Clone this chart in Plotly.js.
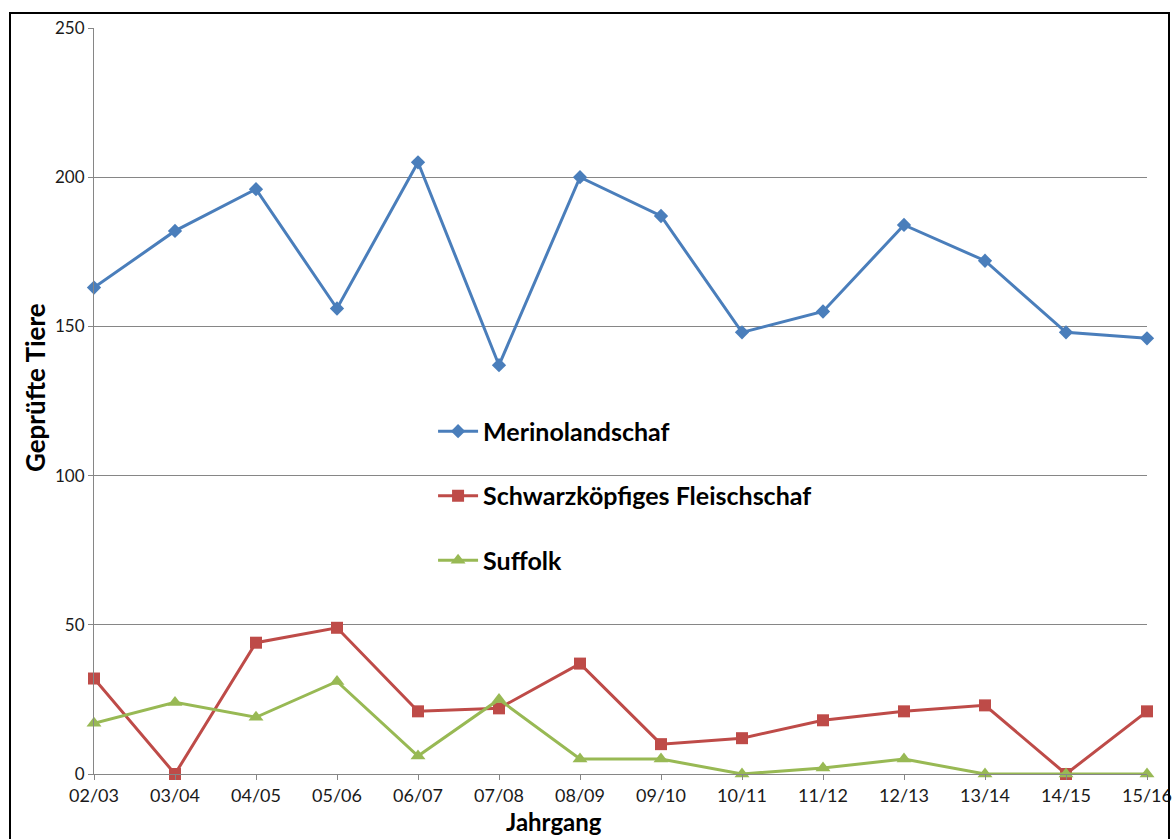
<!DOCTYPE html>
<html>
<head>
<meta charset="utf-8">
<script src="https://cdn.plot.ly/plotly-3.0.1.min.js"></script>
<style>
  html, body { margin: 0; padding: 0; background: #fff; overflow: hidden; }
  #chart { width: 1172px; height: 839px; }
  #frame { position: absolute; left: 9px; top: 12px; width: 1157px; height: 860px;
           border: 2px solid #000; pointer-events: none; }
</style>
</head>
<body>
<div id="chart"></div>
<div id="frame"></div>
<script>
const categories = ["02/03","03/04","04/05","05/06","06/07","07/08","08/09","09/10","10/11","11/12","12/13","13/14","14/15","15/16"];
const merinolandschaf = [163, 182, 196, 156, 205, 137, 200, 187, 148, 155, 184, 172, 148, 146];
const schwarzkoepfiges = [32, 0, 44, 49, 21, 22, 37, 10, 12, 18, 21, 23, 0, 21];
const suffolk = [17, 24, 19, 31, 6, 25, 5, 5, 0, 2, 5, 0, 0, 0];
const yTicks = [0, 50, 100, 150, 200, 250];

const fontFam = "Lato, 'Open Sans', sans-serif";

const traces = [
  { x: categories, y: merinolandschaf, name: "Merinolandschaf", legendgroup: "a",
    mode: "lines+markers", line: { color: "#4a7ebb", width: 3 },
    marker: { symbol: "diamond", size: 11, color: "#4a7ebb" }, cliponaxis: false },
  { x: categories, y: schwarzkoepfiges, name: "Schwarzköpfiges Fleischschaf", legendgroup: "b",
    mode: "lines+markers", line: { color: "#be4b48", width: 3 },
    marker: { symbol: "square", size: 12, color: "#be4b48" }, cliponaxis: false },
  { x: categories, y: suffolk, name: "Suffolk", legendgroup: "c",
    mode: "lines+markers", line: { color: "#98b954", width: 3 },
    marker: { symbol: "triangle-up", size: 13, color: "#98b954" }, cliponaxis: false }
];

const layout = {
  width: 1172, height: 839,
  margin: { l: 94, r: 25, t: 28, b: 65 },
  paper_bgcolor: "#fff", plot_bgcolor: "#fff",
  font: { family: fontFam, color: "#000" },
  showlegend: true,
  legend: { x: 0.322, y: 0.49, xanchor: "left", yanchor: "top",
            font: { family: fontFam, size: 25, color: "#000", weight: "bold" },
            tracegroupgap: 29, bgcolor: "rgba(0,0,0,0)", itemwidth: 40 },
  xaxis: {
    type: "category", range: [0, 13], categoryorder: "array", categoryarray: categories,
    showline: true, linecolor: "#868686", linewidth: 1,
    ticks: "outside", ticklen: 5, tickcolor: "#868686",
    showgrid: false, zeroline: false,
    tickfont: { family: fontFam, size: 18, color: "#1a1a1a" }
  },
  yaxis: {
    range: [0, 250], tickvals: yTicks, ticktext: yTicks.map(String),
    showline: true, linecolor: "#868686", linewidth: 1,
    ticks: "outside", ticklen: 5, tickcolor: "#868686",
    showgrid: true, gridcolor: "#868686", gridwidth: 1, zeroline: false,
    tickfont: { family: fontFam, size: 17, color: "#1a1a1a" }
  },
  annotations: [
    { text: "Jahrgang", xref: "paper", yref: "paper", x: (554 - 94) / 1053, y: (774 - 821) / 746,
      xanchor: "center", yanchor: "middle", showarrow: false,
      font: { family: fontFam, size: 24, color: "#000", weight: "bold" } },
    { text: "Geprüfte Tiere", xref: "paper", yref: "paper", x: (35 - 94) / 1053, y: (774 - 388) / 746,
      xanchor: "center", yanchor: "middle", showarrow: false, textangle: -90,
      font: { family: fontFam, size: 26, color: "#000", weight: "bold" } }
  ]
};

Plotly.newPlot("chart", traces, layout, { displayModeBar: false, staticPlot: true });
</script>
</body>
</html>
